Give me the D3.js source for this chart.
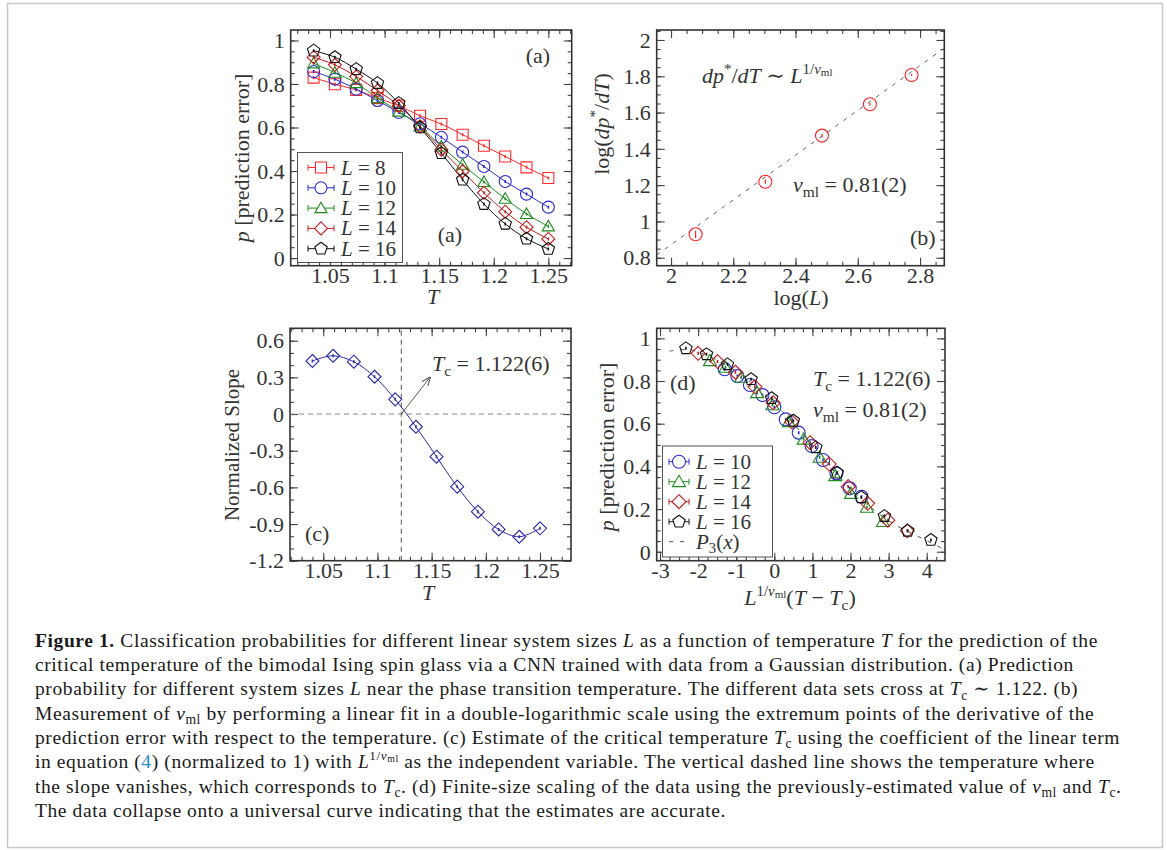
<!DOCTYPE html>
<html>
<head>
<meta charset="utf-8">
<script src="https://cdn.jsdelivr.net/npm/d3@7"></script>
<style>
  body { margin: 0; background: #fff; }
  text { font-family: "Liberation Serif", "DejaVu Serif", serif; fill: #333; }
</style>
</head>
<body>
<script>
// ---- data ----

// (a) prediction error vs T
let tA = [1.035, 1.0545, 1.074, 1.0935, 1.113, 1.1325, 1.152, 1.1715, 1.191, 1.2105, 1.230, 1.250];
let pL8  = [0.829, 0.799, 0.773, 0.735, 0.700, 0.654, 0.616, 0.567, 0.516, 0.467, 0.417, 0.368];
let pL10 = [0.857, 0.822, 0.776, 0.724, 0.669, 0.617, 0.555, 0.487, 0.421, 0.352, 0.294, 0.234];
let pL12 = [0.895, 0.852, 0.804, 0.735, 0.673, 0.605, 0.513, 0.429, 0.350, 0.273, 0.203, 0.146];
let pL14 = [0.923, 0.888, 0.834, 0.770, 0.700, 0.605, 0.498, 0.399, 0.300, 0.213, 0.142, 0.088];
let pL16 = [0.953, 0.923, 0.868, 0.804, 0.712, 0.600, 0.482, 0.360, 0.248, 0.157, 0.089, 0.042];

// (b) log-log fit
let logL = [2.079, 2.303, 2.485, 2.639, 2.773];
let logD = [0.929, 1.219, 1.473, 1.646, 1.807];
let errB = [0.020, 0.012, 0.010, 0.008, 0.006];
let fitX = [1.954, 2.878];
let fitY = [0.815, 1.955];

// (c) normalized slope
let tC = [1.04, 1.0591, 1.0782, 1.0973, 1.1164, 1.1355, 1.1545, 1.1736, 1.1927, 1.2118, 1.2309, 1.25];
let slope = [0.434, 0.477, 0.428, 0.305, 0.120, -0.104, -0.349, -0.594, -0.799, -0.944, -1.004, -0.935];
let Tc = 1.122;
let arrowTip = [1.1485, 0.30];

// (d) data collapse
let xL10 = [-1.30, -0.97, -0.64, -0.31, 0.00, 0.30, 0.64, 0.98, 1.28, 1.63, 1.98, 2.29];
let yL10 = [0.855, 0.823, 0.781, 0.734, 0.677, 0.620, 0.558, 0.495, 0.430, 0.367, 0.297, 0.258];
let xL12 = [-1.69, -1.28, -0.87, -0.45, -0.05, 0.38, 0.77, 1.19, 1.60, 2.01, 2.43, 2.85];
let yL12 = [0.895, 0.864, 0.817, 0.745, 0.688, 0.609, 0.527, 0.442, 0.356, 0.273, 0.208, 0.141];
let xL14 = [-2.00, -1.49, -1.02, -0.51, -0.03, 0.46, 0.94, 1.44, 1.94, 2.45, 2.98, 3.49];
let yL14 = [0.930, 0.891, 0.841, 0.773, 0.698, 0.609, 0.511, 0.411, 0.305, 0.227, 0.148, 0.098];
let xL16 = [-2.32, -1.78, -1.23, -0.61, -0.07, 0.50, 1.09, 1.65, 2.28, 2.89, 3.50, 4.11];
let yL16 = [0.953, 0.925, 0.878, 0.808, 0.719, 0.614, 0.489, 0.370, 0.255, 0.167, 0.098, 0.055];
let p3X = [-2.75, -2.3, -2.0, -1.0, 0.0, 1.0, 2.0, 3.0, 4.0, 4.45];
let p3Y = [0.940, 0.948, 0.937, 0.845, 0.695, 0.500, 0.295, 0.145, 0.052, 0.012];

// tick labels
let ticksAx = [1.05, 1.1, 1.15, 1.2, 1.25];
let ticksAy = [0, 0.2, 0.4, 0.6, 0.8, 1];
let ticksBx = [2, 2.2, 2.4, 2.6, 2.8];
let ticksBy = [0.8, 1, 1.2, 1.4, 1.6, 1.8, 2];
let ticksCx = [1.05, 1.1, 1.15, 1.2, 1.25];
let ticksCy = [-1.2, -0.9, -0.6, -0.3, 0, 0.3, 0.6];
let ticksDx = [-3, -2, -1, 0, 1, 2, 3, 4];
let ticksDy = [0, 0.2, 0.4, 0.6, 0.8, 1];

let fmt = d => String(+d.toFixed(2));
let FS = 22;

let svg = d3.select("body").append("svg")
    .attr("width", 1167)
    .attr("height", 850);

svg.append("rect").attr("x", 7.5).attr("y", 3.5).attr("width", 1155).attr("height", 844)
    .attr("fill", "#fff").attr("stroke", "#c8c8c8").attr("stroke-width", 1.5);

// ---- helpers ----
function rich(g, x, y, parts, fs, anchor, rot) {
    let t = g.append("text").attr("x", x).attr("y", y)
        .attr("font-size", fs).attr("text-anchor", anchor || "start");
    if (rot) t.attr("transform", "rotate(-90," + x + "," + y + ")");
    let cur = 0;
    parts.forEach(p => {
        let s = p[0], f = p[1] || {};
        let shift = 0, size = fs;
        if (f.sub) { shift = 0.22 * fs; size = 0.7 * fs; }
        if (f.sup) { shift = -0.42 * fs; size = 0.68 * fs; }
        if (f.ss)  { shift = -0.30 * fs; size = 0.5 * fs; }
        let ts = t.append("tspan").attr("dy", shift - cur).attr("font-size", size).text(s);
        if (f.i) ts.attr("font-style", "italic");
        cur = shift;
    });
    return t;
}

function shape(kind, r) {
    let p = d3.path();
    if (kind == "square") { p.rect(-r, -r, 2 * r, 2 * r); }
    else if (kind == "circle") { p.arc(0, 0, r, 0, 2 * Math.PI); p.closePath(); }
    else {
        let n = kind == "triangle" ? 3 : kind == "diamond" ? 4 : 5;
        for (let k = 0; k < n; k++) {
            let a = -Math.PI / 2 + k * 2 * Math.PI / n;
            let px = r * Math.cos(a), py = r * Math.sin(a) + (n == 3 ? r * 0.15 : 0);
            if (k == 0) p.moveTo(px, py); else p.lineTo(px, py);
        }
        p.closePath();
    }
    return p.toString();
}

function panel(c) {
    let g = svg.append("g");
    let x = d3.scaleLinear().domain(c.xd).range([c.x0, c.x1]);
    let y = d3.scaleLinear().domain(c.yd).range([c.y1, c.y0]);
    let minor = (d, s) => d3.range(Math.ceil(d[0] / s - 1e-6), Math.floor(d[1] / s + 1e-6) + 1).map(k => +(k * s).toFixed(4));
    let mx = minor(c.xd, c.xm), my = minor(c.yd, c.ym);

    let put = (axis, tr, vals, size, lab) => {
        let a = g.append("g").attr("transform", tr)
            .call(axis.tickValues(vals).tickSize(-size).tickPadding(0)
                .tickFormat(lab ? fmt : ""));
        a.select(".domain").remove();
        a.selectAll("line").attr("stroke", "#444").attr("stroke-width", 1.1);
        a.attr("font-family", null).attr("font-size", null);
        a.selectAll("text").attr("font-size", FS).attr("fill", "#333");
        return a;
    };
    put(d3.axisBottom(x), "translate(0," + c.y1 + ")", mx, 4, false);
    put(d3.axisTop(x), "translate(0," + c.y0 + ")", mx, 4, false);
    put(d3.axisLeft(y), "translate(" + c.x0 + ",0)", my, 4, false);
    put(d3.axisRight(y), "translate(" + c.x1 + ",0)", my, 4, false);
    let bx = put(d3.axisBottom(x), "translate(0," + c.y1 + ")", c.xt, 8, true);
    bx.selectAll("text").attr("dy", "0.71em").attr("y", 2);
    put(d3.axisTop(x), "translate(0," + c.y0 + ")", c.xt, 8, false);
    let ly = put(d3.axisLeft(y), "translate(" + c.x0 + ",0)", c.yt, 8, true);
    ly.selectAll("text").attr("x", -6).attr("dy", "0.33em");
    put(d3.axisRight(y), "translate(" + c.x1 + ",0)", c.yt, 8, false);

    g.append("rect").attr("x", c.x0).attr("y", c.y0)
        .attr("width", c.x1 - c.x0).attr("height", c.y1 - c.y0)
        .attr("fill", "none").attr("stroke", "#333").attr("stroke-width", 1.6);

    let clipId = "clip" + c.id;
    svg.append("clipPath").attr("id", clipId).append("rect")
        .attr("x", c.x0).attr("y", c.y0).attr("width", c.x1 - c.x0).attr("height", c.y1 - c.y0);
    let plot = g.append("g").attr("clip-path", "url(#" + clipId + ")");
    return {g: g, plot: plot, x: x, y: y};
}

function markers(plot, xs, ys, xv, yv, kind, r, color) {
    let pts = xv.map((v, i) => [v, yv[i]]);
    let m = plot.append("g").selectAll("g").data(pts).enter().append("g")
        .attr("transform", d => "translate(" + xs(d[0]) + "," + ys(d[1]) + ")");
    m.append("path").attr("d", shape(kind, r))
        .attr("fill", "none").attr("stroke", color).attr("stroke-width", 1.1);
    m.append("line").attr("x1", 0).attr("x2", 0).attr("y1", -1.5).attr("y2", 1.5)
        .attr("stroke", color).attr("stroke-width", 1.6);
}

function legendRow(g, x, y, hw, kind, r, color, label, dashed) {
    if (dashed) {
        g.append("line").attr("x1", x - hw).attr("x2", x + hw).attr("y1", y).attr("y2", y)
            .attr("stroke", "#555").attr("stroke-width", 1).attr("stroke-dasharray", "4,7");
    } else {
        g.append("line").attr("x1", x - hw).attr("x2", x + hw).attr("y1", y).attr("y2", y)
            .attr("stroke", color).attr("stroke-width", 1);
        [x - hw, x + hw].forEach(cx => g.append("line").attr("x1", cx).attr("x2", cx)
            .attr("y1", y - 3).attr("y2", y + 3).attr("stroke", color).attr("stroke-width", 1));
        g.append("path").attr("transform", "translate(" + x + "," + y + ")")
            .attr("d", shape(kind, r)).attr("fill", "#fff").attr("stroke", color).attr("stroke-width", 1.1);
    }
    rich(g, x + hw + 7, y + 7, label, 21);
}

let lab = n => [["L", {i: true}], [" = " + n]];

// ---- (a) ----
let A = panel({id: "a", x0: 290.7, x1: 571.7, y0: 30, y1: 265.7,
    xd: [1.0140, 1.2714], yd: [-0.035, 1.048], xt: ticksAx, yt: ticksAy, xm: 0.01, ym: 0.05});
let seriesA = [
    {v: pL8,  kind: "square",   r: 5.5, color: "#ff2b2b", n: 8},
    {v: pL10, kind: "circle",   r: 6,   color: "#2a2ad4", n: 10},
    {v: pL12, kind: "triangle", r: 7,   color: "#1e8c1e", n: 12},
    {v: pL14, kind: "diamond",  r: 6.5, color: "#c41c1c", n: 14},
    {v: pL16, kind: "pentagon", r: 6.5, color: "#111",    n: 16}
];
let lineA = d3.line().curve(d3.curveCatmullRom.alpha(0.5)).x(d => A.x(d[0])).y(d => A.y(d[1]));
seriesA.forEach(s => {
    A.plot.append("path").datum(tA.map((t, i) => [t, s.v[i]])).attr("d", lineA)
        .attr("fill", "none").attr("stroke", s.color).attr("stroke-width", 1);
});
seriesA.forEach(s => markers(A.plot, A.x, A.y, tA, s.v, s.kind, s.r, s.color));
A.g.append("rect").attr("x", 297.5).attr("y", 152.5).attr("width", 105).attr("height", 110)
    .attr("fill", "#fff").attr("stroke", "#555").attr("stroke-width", 1);
seriesA.forEach((s, i) => legendRow(A.g, 321, 167.5 + i * 20.3, 13, s.kind, s.r, s.color, lab(s.n)));
rich(A.g, 538, 63, [["(a)"]], FS, "middle");
rich(A.g, 450, 242, [["(a)"]], FS, "middle");
rich(A.g, 433, 304, [["T", {i: true}]], FS, "middle");
rich(A.g, 249, 158, [["p", {i: true}], [" [prediction error]"]], FS, "middle", true);

// ---- (b) ----
let B = panel({id: "b", x0: 656.7, x1: 944.3, y0: 30, y1: 265.7,
    xd: [1.954, 2.878], yd: [0.756, 2.055], xt: ticksBx, yt: ticksBy, xm: 0.05, ym: 0.05});
B.plot.append("line").attr("x1", B.x(fitX[0])).attr("y1", B.y(fitY[0]))
    .attr("x2", B.x(fitX[1])).attr("y2", B.y(fitY[1]))
    .attr("stroke", "#666").attr("stroke-width", 1).attr("stroke-dasharray", "4,6");
let ptsB = logL.map((v, i) => [v, logD[i], errB[i]]);
let gb = B.plot.append("g").selectAll("g").data(ptsB).enter().append("g");
gb.append("circle").attr("cx", d => B.x(d[0])).attr("cy", d => B.y(d[1])).attr("r", 6.5)
    .attr("fill", "none").attr("stroke", "#ff2020").attr("stroke-width", 1.1);
gb.append("line").attr("x1", d => B.x(d[0])).attr("x2", d => B.x(d[0]))
    .attr("y1", d => B.y(d[1] - d[2])).attr("y2", d => B.y(d[1] + d[2]))
    .attr("stroke", "#ff2020").attr("stroke-width", 1.2);
rich(B.g, 702, 83, [["dp", {i: true}], ["*", {sup: true}], ["/"], ["dT", {i: true}], [" \u223C "], ["L", {i: true}],
    ["1/", {sup: true}], ["\u03BD", {sup: true, i: true}], ["ml", {ss: true}]], FS);
rich(B.g, 793, 192, [["\u03BD", {i: true}], ["ml", {sub: true}], [" = 0.81(2)"]], FS);
rich(B.g, 910, 245, [["(b)"]], FS);
rich(B.g, 801, 305, [["log("], ["L", {i: true}], [")"]], FS, "middle");
rich(B.g, 609, 124, [["log("], ["dp", {i: true}], ["*", {sup: true}], ["/"], ["dT", {i: true}], [")"]], FS, "middle", true);

// ---- (c) ----
let C = panel({id: "c", x0: 290, x1: 571, y0: 328.3, y1: 560.7,
    xd: [1.0193, 1.2786], yd: [-1.2, 0.7015], xt: ticksCx, yt: ticksCy, xm: 0.01, ym: 0.1});
C.plot.append("line").attr("x1", C.x(Tc)).attr("x2", C.x(Tc)).attr("y1", C.y(C.y.domain()[0])).attr("y2", C.y(C.y.domain()[1]))
    .attr("stroke", "#555").attr("stroke-width", 1).attr("stroke-dasharray", "5,4");
C.plot.append("line").attr("x1", C.x(C.x.domain()[0])).attr("x2", C.x(C.x.domain()[1])).attr("y1", C.y(0)).attr("y2", C.y(0))
    .attr("stroke", "#888").attr("stroke-width", 1).attr("stroke-dasharray", "5,4");
let lineC = d3.line().curve(d3.curveCatmullRom.alpha(0.5)).x(d => C.x(d[0])).y(d => C.y(d[1]));
C.plot.append("path").datum(tC.map((t, i) => [t, slope[i]])).attr("d", lineC)
    .attr("fill", "none").attr("stroke", "#2c2ca8").attr("stroke-width", 1);
markers(C.plot, C.x, C.y, tC, slope, "diamond", 6.5, "#2c2ca8");
svg.append("defs").append("marker").attr("id", "arr").attr("viewBox", "0 0 10 10")
    .attr("refX", 9).attr("refY", 5).attr("markerWidth", 9).attr("markerHeight", 9)
    .attr("orient", "auto").attr("markerUnits", "userSpaceOnUse")
    .append("path").attr("d", "M0,1 L10,5 L0,9").attr("fill", "none").attr("stroke", "#555").attr("stroke-width", 1.2);
C.g.append("line").attr("x1", C.x(Tc)).attr("y1", C.y(0)).attr("x2", C.x(arrowTip[0])).attr("y2", C.y(arrowTip[1]))
    .attr("stroke", "#555").attr("stroke-width", 1).attr("marker-end", "url(#arr)");
rich(C.g, 432, 371, [["T", {i: true}], ["c", {sub: true}], [" = 1.122(6)"]], FS);
rich(C.g, 305, 541, [["(c)"]], FS);
rich(C.g, 428, 600, [["T", {i: true}]], FS, "middle");
rich(C.g, 239, 445, [["Normalized Slope"]], 21, "middle", true);

// ---- (d) ----
let D = panel({id: "d", x0: 656.7, x1: 945, y0: 328.3, y1: 560.7,
    xd: [-3.087, 4.48], yd: [-0.042, 1.047], xt: ticksDx, yt: ticksDy, xm: 0.25, ym: 0.05});
let lineD = d3.line().curve(d3.curveCatmullRom.alpha(0.5)).x(d => D.x(d[0])).y(d => D.y(d[1]));
D.plot.append("path").datum(p3X.map((v, i) => [v, p3Y[i]])).attr("d", lineD)
    .attr("fill", "none").attr("stroke", "#555").attr("stroke-width", 1).attr("stroke-dasharray", "4,7");
let seriesD = [
    {x: xL10, y: yL10, kind: "circle",   r: 6.5, color: "#2a2ad4", n: 10},
    {x: xL12, y: yL12, kind: "triangle", r: 7.5, color: "#1e8c1e", n: 12},
    {x: xL14, y: yL14, kind: "diamond",  r: 7,   color: "#c41c1c", n: 14},
    {x: xL16, y: yL16, kind: "pentagon", r: 6.5, color: "#111",    n: 16}
];
seriesD.forEach(s => markers(D.plot, D.x, D.y, s.x, s.y, s.kind, s.r, s.color));
D.g.append("rect").attr("x", 662.5).attr("y", 446).attr("width", 110).attr("height", 111)
    .attr("fill", "#fff").attr("stroke", "#555").attr("stroke-width", 1);
seriesD.forEach((s, i) => legendRow(D.g, 679, 461.7 + i * 20, 10, s.kind, s.r, s.color, lab(s.n)));
legendRow(D.g, 679, 541.7, 10, null, 0, "#555", [["P", {i: true}], ["3", {sub: true}], ["("], ["x", {i: true}], [")"]], true);
rich(D.g, 670, 390, [["(d)"]], FS);
rich(D.g, 813, 386, [["T", {i: true}], ["c", {sub: true}], [" = 1.122(6)"]], FS);
rich(D.g, 813, 417, [["\u03BD", {i: true}], ["ml", {sub: true}], [" = 0.81(2)"]], FS);
rich(D.g, 800, 605, [["L", {i: true}], ["1/", {sup: true}], ["\u03BD", {sup: true, i: true}], ["ml", {ss: true}],
    ["(", {}], ["T", {i: true}], [" \u2212 "], ["T", {i: true}], ["c", {sub: true}], [")"]], FS, "middle");
rich(D.g, 614, 447, [["p", {i: true}], [" [prediction error]"]], FS, "middle", true);

// ---- caption ----
let capLines = [
    [["Figure 1.", {b: true}], [" Classification probabilities for different linear system sizes "], ["L", {i: true}], [" as a function of temperature "], ["T", {i: true}], [" for the prediction of the"]],
    [["critical temperature of the bimodal Ising spin glass via a CNN trained with data from a Gaussian distribution. (a) Prediction"]],
    [["probability for different system sizes "], ["L", {i: true}], [" near the phase transition temperature. The different data sets cross at "], ["T", {i: true}], ["c", {sub: true}], [" \u223C 1.122. (b)"]],
    [["Measurement of "], ["\u03BD", {i: true}], ["ml", {sub: true}], [" by performing a linear fit in a double-logarithmic scale using the extremum points of the derivative of the"]],
    [["prediction error with respect to the temperature. (c) Estimate of the critical temperature "], ["T", {i: true}], ["c", {sub: true}], [" using the coefficient of the linear term"]],
    [["in equation ("], ["4", {link: true}], [") (normalized to 1) with "], ["L", {i: true}], ["1/", {sup: true}], ["\u03BD", {sup: true, i: true}], ["ml", {ss: true}], [" as the independent variable. The vertical dashed line shows the temperature where"]],
    [["the slope vanishes, which corresponds to "], ["T", {i: true}], ["c", {sub: true}], [". (d) Finite-size scaling of the data using the previously-estimated value of "], ["\u03BD", {i: true}], ["ml", {sub: true}], [" and "], ["T", {i: true}], ["c", {sub: true}], ["."]],
    [["The data collapse onto a universal curve indicating that the estimates are accurate."]]
];
let cap = svg.append("g").attr("letter-spacing", 0.6);
capLines.forEach((ln, i) => {
    let t = rich(cap, 35, 646.7 + i * 24.3, ln, 19.5);
    t.selectAll("tspan").each(function(d, j) {
        let f = ln[j][1] || {};
        let s = d3.select(this).attr("fill", "#1a1a1a");
        if (f.b) s.attr("font-weight", "bold");
        if (f.link) s.attr("fill", "#2b8cc4");
    });
});
</script>
</body>
</html>
